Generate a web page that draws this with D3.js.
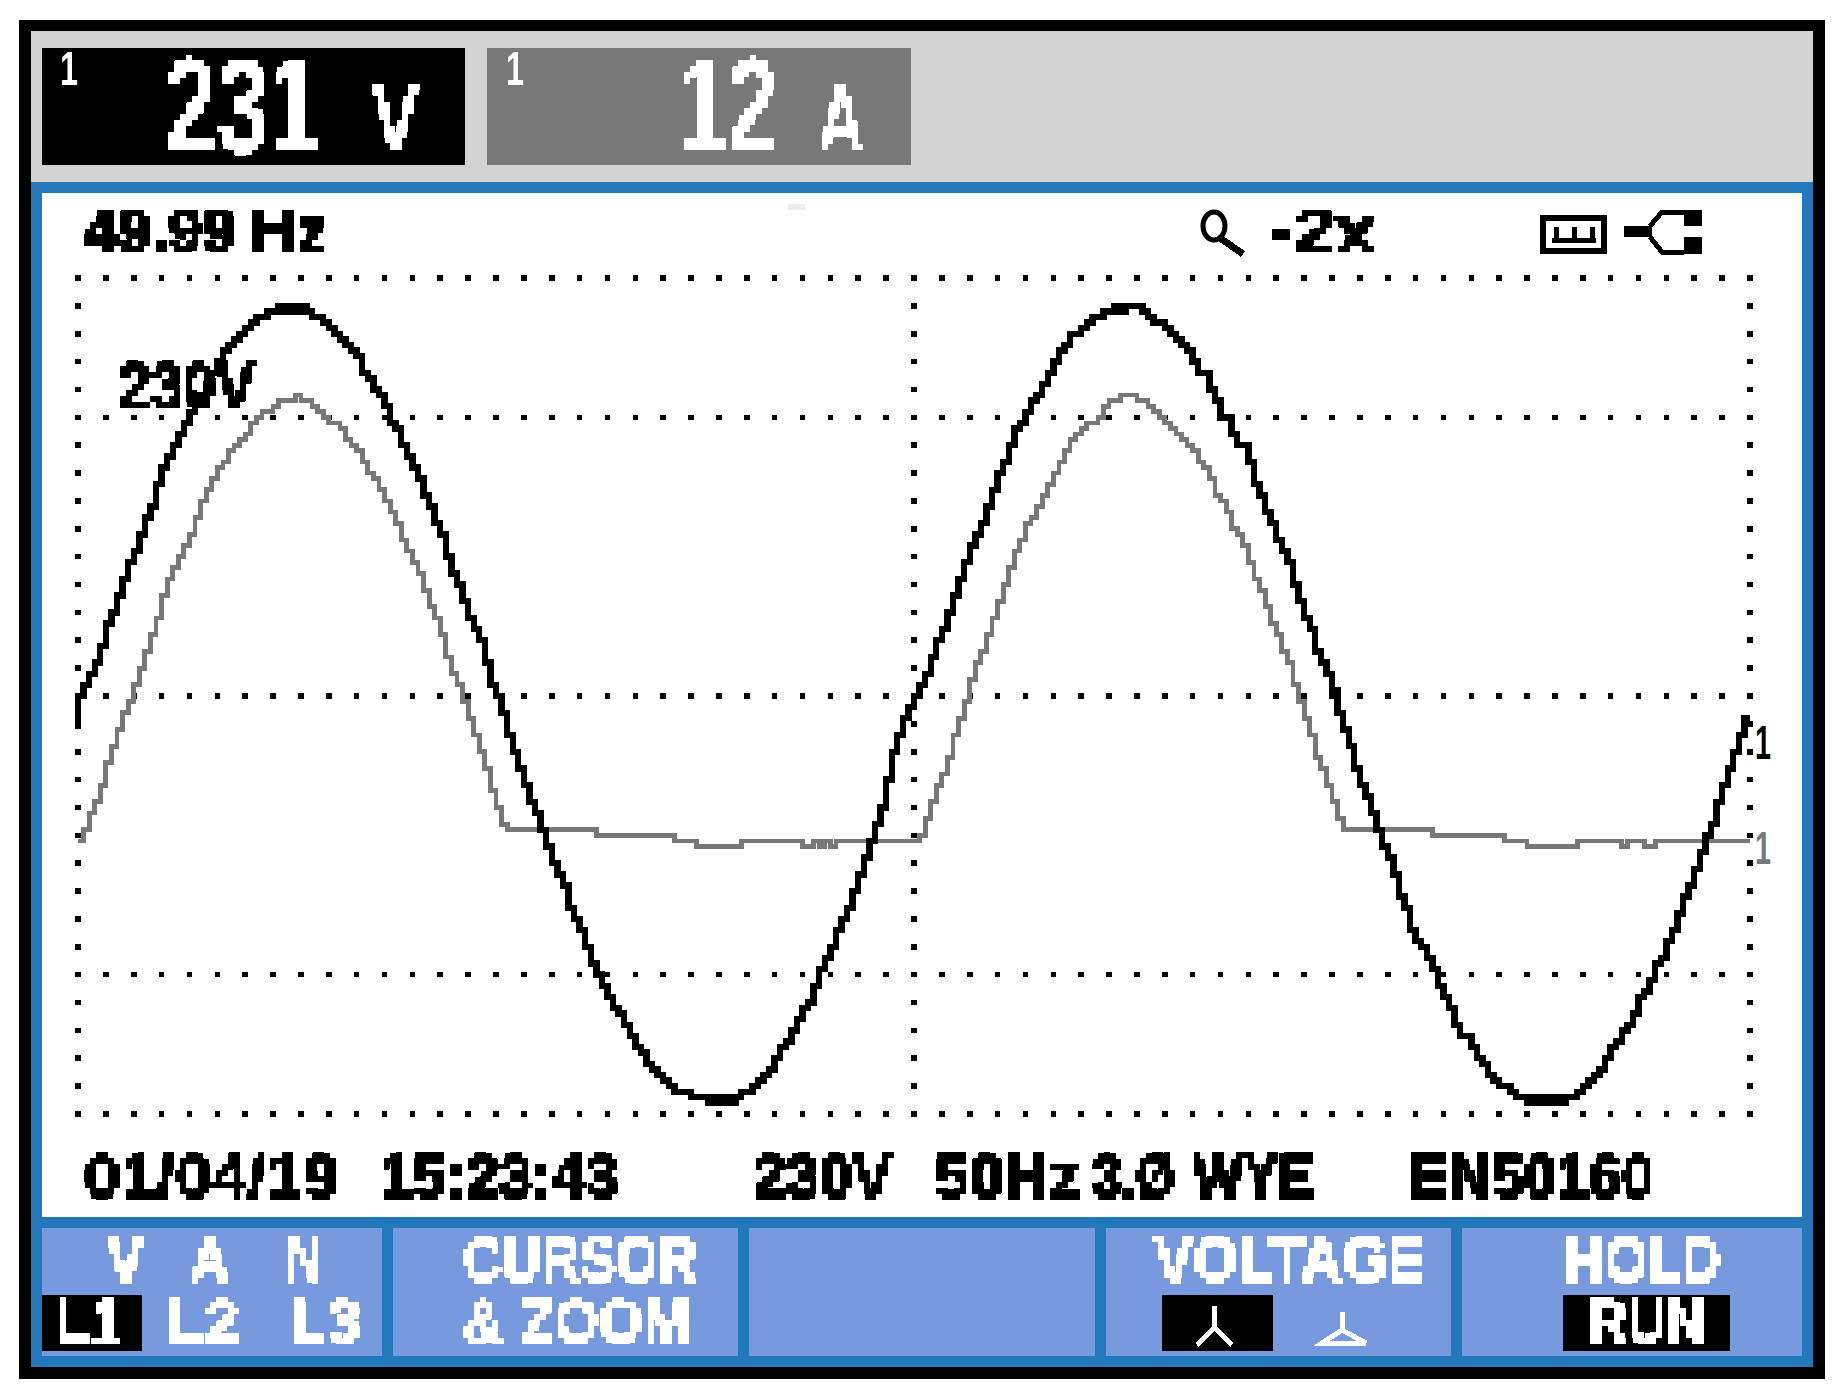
<!DOCTYPE html>
<html>
<head>
<meta charset="utf-8">
<title>Power quality scope screen</title>
<script src="https://cdnjs.cloudflare.com/ajax/libs/d3/7.8.5/d3.min.js"></script>
<style>
    html, body { margin: 0; padding: 0; background: #fff; }
    svg { display: block; }
    text { font-family: "Liberation Sans", sans-serif; }
</style>
</head>
<body>
<svg width="1848" height="1396"></svg>
<script>
// trace samples, one per LCD column, in display counts above the trace zero
const voltCounts = [-5,
    1, 3, 5, 7, 10, 14, 16, 19, 22, 25,
    27, 30, 33, 35, 39, 42, 44, 46, 48, 50,
    52, 54, 55, 57, 59, 61, 63, 64, 65, 66,
    67, 68, 69, 69, 70, 70, 71, 70, 71, 70,
    71, 70, 69, 69, 68, 67, 66, 65, 64, 63,
    62, 59, 58, 56, 55, 53, 50, 49, 46, 44,
    42, 40, 37, 35, 32, 30, 26, 23, 21, 18,
    15, 13, 11, 7, 3, 1, -2, -6, -9, -12,
    -15, -18, -20, -23, -26, -29, -31, -33, -37, -39,
    -41, -44, -47, -49, -51, -53, -55, -56, -58, -60,
    -62, -63, -65, -66, -67, -68, -69, -70, -70, -70,
    -71, -71, -71, -72, -71, -72, -71, -72, -71, -70,
    -70, -69, -68, -67, -66, -64, -62, -61, -59, -57,
    -55, -54, -51, -48, -46, -44, -41, -39, -37, -34,
    -31, -28, -25, -22, -19, -14, -9, -6, -3, -1,
    1, 3, 5, 8, 11, 13, 16, 19, 22, 25,
    28, 30, 32, 35, 38, 41, 43, 46, 49, 50,
    52, 54, 55, 57, 59, 61, 63, 64, 66, 66,
    67, 68, 69, 69, 70, 70, 71, 70, 71, 71,
    71, 70, 69, 68, 68, 67, 66, 65, 64, 63,
    61, 59, 59, 56, 54, 51, 51, 48, 46, 46,
    43, 39, 37, 34, 32, 29, 27, 25, 21, 18,
    15, 13, 9, 7, 5, 2, -2, -5, -8, -12,
    -15, -17, -20, -23, -26, -28, -31, -35, -37, -41,
    -43, -44, -46, -48, -51, -53, -55, -58, -60, -60,
    -62, -64, -65, -67, -68, -69, -69, -70, -71, -71,
    -72, -71, -72, -71, -72, -71, -72, -71, -71, -70,
    -69, -68, -67, -66, -64, -62, -61, -59, -58, -56,
    -53, -52, -50, -47, -46, -43, -41, -38, -35, -33,
    -30, -27, -24, -22, -18, -15, -12, -9, -6, -3];

const ampCounts = [0,
    0, 2, 5, 7, 10, 14, 17, 20, 23, 25,
    28, 31, 34, 37, 40, 44, 47, 49, 51, 53,
    55, 58, 61, 63, 65, 67, 68, 70, 71, 72,
    73, 75, 76, 77, 77, 78, 79, 79, 79, 80,
    79, 79, 78, 77, 76, 75, 75, 74, 72, 71,
    70, 68, 66, 65, 63, 61, 59, 57, 54, 52,
    50, 48, 45, 42, 40, 37, 33, 30, 28, 25,
    22, 19, 16, 13, 9, 6, 3, 2, 2, 2,
    2, 2, 2, 2, 2, 2, 2, 2, 2, 2,
    2, 2, 2, 1, 1, 1, 1, 1, 1, 1,
    1, 1, 1, 1, 1, 1, 1, 0, 0, 0,
    0, -1, -1, -1, -1, -1, -1, -1, -1, 0,
    0, 0, 0, 0, 0, 0, 0, 0, 0, 0,
    -1, -1, 0, -1, 0, -1, 0, 0, 0, 0,
    0, 0, 0, 0, 0, 0, 0, 0, 0, 0,
    0, 1, 4, 7, 10, 12, 15, 19, 22, 25,
    29, 32, 34, 37, 40, 43, 46, 49, 52, 54,
    57, 58, 60, 62, 64, 66, 68, 70, 72, 73,
    74, 75, 75, 76, 78, 79, 79, 80, 80, 80,
    79, 79, 78, 77, 76, 75, 74, 73, 72, 71,
    70, 68, 67, 65, 62, 61, 59, 56, 55, 53,
    50, 47, 45, 42, 39, 37, 34, 32, 28, 25,
    22, 19, 15, 13, 10, 7, 4, 2, 2, 2,
    2, 2, 2, 2, 2, 2, 2, 2, 2, 2,
    2, 2, 2, 1, 1, 1, 1, 1, 1, 1,
    1, 1, 1, 1, 1, 1, 0, 0, 0, 0,
    -1, -1, -1, -1, -1, -1, -1, -1, -1, 0,
    0, 0, 0, 0, 0, 0, 0, -1, 0, 0,
    0, -1, -1, 0, 0, 0, 0, 0, 0, 0,
    0, 0, 0, 0, 0, 0, 0, 0, 0, 0];

const gridColumns = [0, 150, 300];
const gridRows = [76, 51, 1, -49, -74];
const softKeys = [[42, 382], [393, 738], [749, 1095], [1106, 1451], [1462, 1802]];

const svg = d3.select('svg');
const lcdPixel = 5.573;

const x = d3.scaleLinear().domain([0, 300]).range([78, 1750]);
const yVolt = d3.scaleLinear().domain([-74, 76]).range([1114, 278]);
const yAmp = yVolt.copy().domain([-49, 101]);

// blocks the glyphs up on a 6px raster, like the LCD does
const pixelate = svg.append('defs').append('filter')
    .attr('id', 'lcd')
    .attr('filterUnits', 'userSpaceOnUse')
    .attr('x', 0).attr('y', 0).attr('width', 1848).attr('height', 1396)
    .attr('color-interpolation-filters', 'sRGB');
pixelate.append('feFlood').attr('x', 2).attr('y', 2).attr('width', 2).attr('height', 2);
pixelate.append('feComposite').attr('x', 0).attr('y', 0).attr('width', 6).attr('height', 6);
pixelate.append('feTile').attr('x', 0).attr('y', 0).attr('width', 1848).attr('height', 1396).attr('result', 'raster');
pixelate.append('feComposite').attr('in', 'SourceGraphic').attr('in2', 'raster').attr('operator', 'in');
pixelate.append('feComponentTransfer').append('feFuncA').attr('type', 'discrete').attr('tableValues', '0 1');
pixelate.append('feMorphology').attr('operator', 'dilate').attr('radius', 2);

function box(x0, y0, x1, y1, fill) {
    svg.append('rect')
        .attr('x', x0).attr('y', y0)
        .attr('width', x1 - x0).attr('height', y1 - y0)
        .attr('fill', fill);
}

// frame
box(19, 20, 1825, 1379, '#000');
box(31, 31, 1813, 182, '#d2d2d2');
box(31, 182, 1813, 1367, '#2377bb');
box(42, 193, 1802, 1217, '#fff');
box(42, 48, 465, 165, '#000');
box(487, 48, 911, 165, '#787878');
box(788, 204, 805, 210, '#ececec');
softKeys.forEach(k => box(k[0], 1228, k[1], 1356, '#7799dd'));
box(42, 1295, 142, 1351, '#000');
box(1563, 1295, 1730, 1351, '#000');
box(1162, 1295, 1273, 1351, '#000');

// grid dots
const dots = [];
gridRows.forEach(row => d3.range(0, 301, 5).forEach(col => dots.push({ col, row })));
gridColumns.forEach(col => d3.range(-74, 77, 5).forEach(row => dots.push({ col, row })));

svg.append('g')
    .selectAll('rect')
    .data(dots)
    .enter()
    .append('rect')
    .attr('x', d => x(d.col) - lcdPixel / 2)
    .attr('y', d => yVolt(d.row) - lcdPixel / 2)
    .attr('width', lcdPixel)
    .attr('height', lcdPixel)
    .attr('shape-rendering', 'crispEdges')
    .attr('fill', '#000');

// traces
function trace(values, y, colour, width) {
    const line = d3.line()
        .x((d, i) => x(i))
        .y(d => y(d))
        .curve(d3.curveStepBefore);
    svg.append('path')
        .attr('d', line(values))
        .attr('fill', 'none')
        .attr('stroke', colour)
        .attr('stroke-width', width)
        .attr('shape-rendering', 'crispEdges');
}

trace(ampCounts, yAmp, '#787878', 4.8);
trace(voltCounts, yVolt, '#000', 6.4);

const blocky = svg.append('g').attr('filter', 'url(#lcd)');
const plain = svg.append('g');

// squeezes a label with a transform so that it fills the measured span
function label(group, str, x0, x1, y0, y1, fill, weight) {
    const t = group.append('text')
        .attr('font-size', (y1 - y0) / 0.7)
        .attr('font-weight', 'bold')
        .attr('fill', fill)
        .attr('stroke', fill)
        .attr('stroke-width', weight)
        .text(str);
    const natural = t.node().getComputedTextLength();
    t.attr('transform', `translate(${x0},${y1 - 2}) scale(${(x1 - x0) / natural},1)`);
}

const big = (str, x0, x1, y0, y1) => label(blocky, str, x0, x1, y0, y1, '#fff', 0);
const black = (str, x0, x1, y0, y1) => label(blocky, str, x0, x1, y0, y1, '#000', 1.5);
const white = (str, x0, x1, y0, y1) => label(blocky, str, x0, x1, y0, y1, '#fff', 1.5);

// readouts
label(plain, '1', 60, 78, 53, 87, '#fff', 0);
label(plain, '1', 506, 524, 53, 87, '#fff', 0);
big('231', 165, 320, 59, 154);
big('V', 372, 419, 87, 154);
big('12', 678, 777, 59, 154);
big('A', 818, 864, 87, 154);

black('49.99', 84, 236, 210, 254);
black('Hz', 250, 328, 210, 254);
black('-2x', 1270, 1376, 210, 254);
black('230V', 118, 255, 365, 410);
label(plain, '1', 1755, 1771, 727, 761, '#000', 0);
label(plain, '1', 1755, 1771, 833, 866, '#787878', 0);

black('01/04/19', 84, 339, 1156, 1200);
black('15:23:43', 380, 618, 1156, 1200);
black('230V', 753, 892, 1156, 1200);
black('50Hz', 935, 1080, 1156, 1200);
black('3.Ø', 1093, 1175, 1156, 1200);
black('WYE', 1193, 1314, 1156, 1200);
black('EN50160', 1410, 1654, 1156, 1200);

// soft keys
white('V', 107, 144, 1239, 1284);
white('A', 190, 229, 1239, 1284);
white('N', 285, 323, 1239, 1284);
white('L1', 55, 123, 1301, 1345);
white('L2', 168, 239, 1301, 1345);
white('L3', 290, 361, 1301, 1345);
white('CURSOR', 463, 697, 1239, 1284);
white('& ZOOM', 463, 690, 1301, 1345);
white('VOLTAGE', 1154, 1426, 1239, 1284);
white('HOLD', 1565, 1721, 1239, 1284);
white('RUN', 1588, 1705, 1301, 1345);

function icon(d, stroke, width, fill) {
    svg.append('path')
        .attr('d', d)
        .attr('fill', fill || 'none')
        .attr('stroke', stroke)
        .attr('stroke-width', width)
        .attr('shape-rendering', 'crispEdges');
}

// wye and delta symbols
icon('M1214.5,1306V1328M1214.5,1328L1197,1345M1214.5,1328L1232,1345', '#fff', 5);
icon('M1342,1312V1330M1342,1330L1322,1343H1366L1342,1330', '#fff', 5);

// magnifier, tape and plug symbols
svg.append('ellipse')
    .attr('cx', 1214).attr('cy', 226).attr('rx', 11).attr('ry', 14)
    .attr('fill', 'none').attr('stroke', '#000').attr('stroke-width', 5);
icon('M1220,238L1243,254', '#000', 7);
icon('M1543,218H1604V251H1543Z', '#000', 6);
icon('M1556,227V238M1574,227V238M1592,227V238M1552,240H1596', '#000', 5);
box(1624, 226, 1652, 237, '#000');
icon('M1650,226L1662,212H1684M1650,237L1662,252H1684', '#000', 5);
box(1684, 210, 1702, 226, '#000');
box(1684, 237, 1702, 254, '#000');
</script>
</body>
</html>
